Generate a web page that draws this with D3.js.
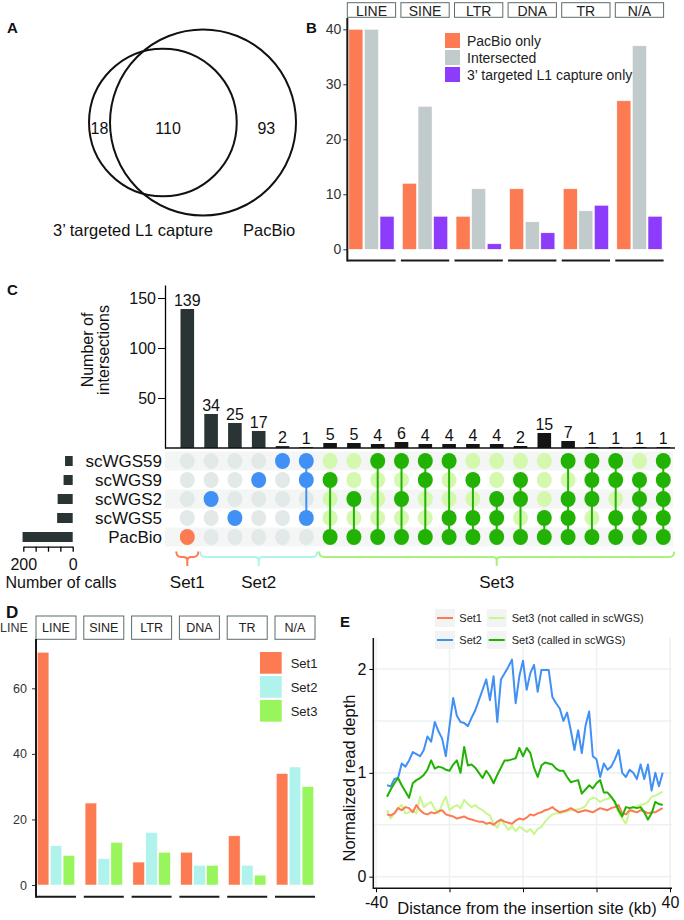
<!DOCTYPE html>
<html>
<head>
<meta charset="utf-8">
<script src="https://cdn.jsdelivr.net/npm/d3@7"></script>
<style>
  body { margin: 0; background: #fff; }
  svg { display: block; font-family: "Liberation Sans", Arial, Helvetica, sans-serif; }
</style>
</head>
<body>
<svg id="figure" width="684" height="920"></svg>
<script>
// ---- A: venn ----
const vennSetNames = ["3’ targeted L1 capture", "PacBio"];
const vennRegionCounts = [18, 110, 93]; // capture only, both, PacBio only

// ---- B: repeat class by caller ----
const repeatClasses = ["LINE", "SINE", "LTR", "DNA", "TR", "N/A"];
const callerGroups = ["PacBio only", "Intersected", "3’ targeted L1 capture only"];
const pacbioOnlyCounts = [40, 12, 6, 11, 11, 27];
const intersectedCounts = [40, 26, 11, 5, 7, 37];
const captureOnlyCounts = [6, 6, 1, 3, 8, 6];

// ---- C: upset ----
const sampleNames = ["scWGS59", "scWGS9", "scWGS2", "scWGS5", "PacBio"];
const intersectionCounts = [139, 34, 25, 17, 2, 1, 5, 5, 4, 6, 4, 4, 4, 4, 2, 15, 7, 1, 1, 1, 1];
const intersectionMembers = [
  ["PacBio"],
  ["scWGS2"],
  ["scWGS5"],
  ["scWGS9"],
  ["scWGS59"],
  ["scWGS59", "scWGS9", "scWGS5"],
  ["scWGS9", "PacBio"],
  ["scWGS2", "PacBio"],
  ["scWGS59", "PacBio"],
  ["scWGS59", "scWGS2", "PacBio"],
  ["scWGS59", "scWGS9", "PacBio"],
  ["scWGS59", "scWGS5", "PacBio"],
  ["scWGS9", "scWGS5", "PacBio"],
  ["scWGS2", "scWGS5", "PacBio"],
  ["scWGS9", "scWGS2", "PacBio"],
  ["scWGS5", "PacBio"],
  ["scWGS59", "scWGS2", "scWGS5", "PacBio"],
  ["scWGS59", "scWGS9", "scWGS2", "PacBio"],
  ["scWGS59", "scWGS9", "scWGS5", "PacBio"],
  ["scWGS9", "scWGS2", "scWGS5", "PacBio"],
  ["scWGS59", "scWGS9", "scWGS2", "scWGS5", "PacBio"],
];

// ---- D: repeat class by set ----
const setNames = ["Set1", "Set2", "Set3"];
const set1Counts = [71, 25, 7, 10, 15, 34];
const set2Counts = [12, 8, 16, 6, 6, 36];
const set3Counts = [9, 13, 10, 6, 3, 30];

// ---- E: read depth around insertion ----
const distanceKb = d3.range(-37, 39);
const set1Depth = [
  0.60, 0.59, 0.61, 0.66, 0.64, 0.67, 0.66, 0.62, 0.69, 0.64,
  0.61, 0.60, 0.62, 0.61, 0.63, 0.64, 0.60, 0.59, 0.58, 0.56,
  0.57, 0.58, 0.56, 0.55, 0.54, 0.53, 0.53, 0.51, 0.52, 0.50,
  0.53, 0.55, 0.53, 0.52, 0.51, 0.54, 0.56, 0.55, 0.57, 0.60,
  0.59, 0.61, 0.62, 0.64, 0.65, 0.67, 0.64, 0.62, 0.63, 0.64,
  0.66, 0.64, 0.62, 0.63, 0.64, 0.63, 0.62, 0.64, 0.66, 0.65,
  0.64, 0.66, 0.67, 0.69, 0.61, 0.60, 0.64, 0.63, 0.62, 0.64,
  0.63, 0.61, 0.62, 0.62, 0.64, 0.66,
];
const set2Depth = [
  0.88, 0.87, 0.94, 0.95, 1.09, 1.06, 1.12, 1.20, 1.18, 1.16,
  1.22, 1.35, 1.30, 1.49, 1.40, 1.33, 1.16, 1.45, 1.72, 1.55,
  1.49, 1.48, 1.45, 1.53, 1.60, 1.70, 1.80, 1.90, 1.70, 1.93,
  1.49, 1.90, 1.96, 2.02, 2.09, 1.67, 1.93, 2.08, 1.80, 1.96,
  2.04, 1.78, 1.99, 1.99, 1.99, 1.73, 1.67, 1.62, 1.50, 1.58,
  1.41, 1.22, 1.41, 1.19, 1.45, 1.59, 1.16, 1.13, 0.96, 1.09,
  1.03, 1.06, 1.13, 1.22, 1.00, 0.96, 1.03, 1.00, 0.94, 1.08,
  0.94, 1.08, 0.83, 1.00, 0.87, 1.00,
];
const set3NotCalledDepth = [
  0.64, 0.56, 0.61, 0.66, 0.69, 0.61, 0.62, 0.64, 0.61, 0.77,
  0.67, 0.70, 0.72, 0.65, 0.61, 0.70, 0.77, 0.64, 0.67, 0.69,
  0.66, 0.74, 0.70, 0.67, 0.69, 0.66, 0.64, 0.61, 0.59, 0.51,
  0.47, 0.55, 0.50, 0.45, 0.49, 0.44, 0.48, 0.46, 0.43, 0.46,
  0.41, 0.46, 0.48, 0.53, 0.57, 0.60, 0.61, 0.61, 0.62, 0.63,
  0.64, 0.64, 0.65, 0.66, 0.68, 0.74, 0.76, 0.75, 0.72, 0.74,
  0.75, 0.77, 0.70, 0.62, 0.56, 0.51, 0.64, 0.66, 0.68, 0.69,
  0.70, 0.72, 0.77, 0.78, 0.80, 0.82,
];
const set3CalledDepth = [
  0.77, 0.84, 0.90, 0.95, 0.88, 0.82, 0.76, 0.90, 0.93, 0.95,
  0.98, 1.03, 1.12, 1.04, 1.06, 1.05, 1.03, 1.02, 1.08, 1.12,
  1.00, 1.25, 1.07, 1.08, 1.05, 1.00, 0.95, 1.02, 0.97, 0.90,
  0.98, 1.05, 1.12, 1.12, 1.13, 1.14, 1.24, 1.16, 1.24, 1.19,
  1.05, 0.96, 1.07, 1.10, 1.09, 1.08, 1.04, 1.02, 1.02, 0.96,
  0.91, 0.92, 0.93, 0.80, 0.84, 0.88, 0.85, 0.90, 0.93, 0.81,
  0.81, 0.77, 0.72, 0.64, 0.58, 0.67, 0.66, 0.67, 0.66, 0.67,
  0.62, 0.55, 0.61, 0.72, 0.70, 0.69,
];

const colors = {
  coral: "#fd7b52",
  grey: "#c1cbcb",
  purple: "#8d3cfb",
  cyan: "#b0f2ec",
  lime: "#98f55c",
  blue: "#4090f5",
  green: "#21b203",
  paleGreen: "#c8f78e",
  dotGrey: "#e3e8e8",
  dotPale: "#d4f8ae",
  strip: "#5d6b6b",
  ink: "#1a1a1a",
};

const svg = d3.select("#figure");
svg.append("rect").attr("width", 684).attr("height", 920).attr("fill", "#fff");

function panelLabel(text, x, y, size) {
  svg
    .append("text")
    .attr("x", x)
    .attr("y", y)
    .attr("font-size", size)
    .attr("font-weight", "bold")
    .attr("fill", "#111")
    .text(text);
}

function drawVenn() {
  const g = svg.append("g");
  const [onlyA, both, onlyB] = vennRegionCounts;
  const sizes = [onlyA + both, both + onlyB];
  const r = d3.scaleSqrt().domain([0, d3.max(sizes)]).range([0, 93]);
  const [r1, r2] = sizes.map(r);
  const target = both * ((Math.PI * r2 * r2) / sizes[1]);

  // lens area for two circles at distance d
  const lens = (d) => {
    if (d <= r2 - r1) return Math.PI * r1 * r1;
    const a1 = r1 * r1 * Math.acos((d * d + r1 * r1 - r2 * r2) / (2 * d * r1));
    const a2 = r2 * r2 * Math.acos((d * d + r2 * r2 - r1 * r1) / (2 * d * r2));
    const k = Math.sqrt((-d + r1 + r2) * (d + r1 - r2) * (d - r1 + r2) * (d + r1 + r2));
    return a1 + a2 - k / 2;
  };
  let lo = r2 - r1;
  let hi = r1 + r2;
  for (let k = 0; k < 60; k++) {
    const mid = (lo + hi) / 2;
    if (lens(mid) > target) lo = mid;
    else hi = mid;
  }
  const dist = (lo + hi) / 2;
  const cy = 122.5;
  const cx2 = 203;
  const cx1 = cx2 - dist;

  g.selectAll("circle")
    .data([
      { cx: cx1, r: r1 },
      { cx: cx2, r: r2 },
    ])
    .join("circle")
    .attr("cx", (d) => d.cx)
    .attr("cy", cy)
    .attr("r", (d) => d.r)
    .attr("fill", "none")
    .attr("stroke", "#111")
    .attr("stroke-width", 2);

  const lensMid = (cx2 - r2 + cx1 + r1) / 2;
  const regionX = [(cx1 - r1 + cx2 - r2) / 2, (cx1 + lensMid) / 2, (cx1 + r1 + cx2 + r2) / 2];
  g.selectAll(".count")
    .data(vennRegionCounts)
    .join("text")
    .attr("class", "count")
    .attr("x", (d, i) => regionX[i])
    .attr("y", cy + 11)
    .attr("text-anchor", "middle")
    .attr("font-size", 16)
    .attr("fill", "#111")
    .text((d) => d);

  g.selectAll(".set-name")
    .data(vennSetNames)
    .join("text")
    .attr("class", "set-name")
    .attr("x", (d, i) => (i ? cx2 + 40 : cx1 + 50))
    .attr("y", 236)
    .attr("text-anchor", (d, i) => (i ? "start" : "end"))
    .attr("font-size", 16.5)
    .attr("fill", "#111")
    .text((d) => d);
}

function drawFacetedBars(o) {
  const g = svg.append("g");
  const y = d3.scaleLinear().domain(o.yDomain).range(o.yRange);
  const inner = d3
    .scaleBand()
    .domain(d3.range(o.series.length))
    .range([0, o.facetWidth])
    .paddingInner(0.1)
    .paddingOuter(0.1);

  const facets = g
    .selectAll(".facet")
    .data(repeatClasses)
    .join("g")
    .attr("class", "facet")
    .attr("transform", (d, i) => `translate(${o.x0 + i * o.facetStep},0)`);

  facets
    .append("rect")
    .attr("y", o.stripY)
    .attr("width", o.facetWidth)
    .attr("height", o.stripH)
    .attr("fill", "#fff")
    .attr("stroke", colors.strip)
    .attr("stroke-width", 1);
  facets
    .append("text")
    .attr("x", o.facetWidth / 2)
    .attr("y", o.stripBaseline)
    .attr("text-anchor", "middle")
    .attr("font-size", o.stripFont)
    .attr("fill", "#222")
    .text((d) => d);

  facets
    .selectAll(".bar")
    .data((d, i) => o.series.map((s, k) => ({ k, v: s[i] })))
    .join("rect")
    .attr("class", "bar")
    .attr("x", (d) => inner(d.k))
    .attr("width", inner.bandwidth())
    .attr("y", (d) => y(d.v))
    .attr("height", (d) => y(0) - y(d.v))
    .attr("fill", (d) => o.colors[d.k])
    .attr("stroke", "#fff")
    .attr("stroke-width", 0.5);

  facets
    .append("line")
    .attr("x2", o.facetWidth)
    .attr("y1", o.baseY)
    .attr("y2", o.baseY)
    .attr("stroke", colors.ink)
    .attr("stroke-width", 2);

  const axis = g
    .append("g")
    .attr("transform", `translate(${o.x0},0)`)
    .call(d3.axisLeft(y).tickValues(o.ticks).tickSize(4).tickPadding(o.tickPadding));
  axis.attr("font-family", null).attr("font-size", o.tickFont);
  axis.select(".domain").remove();
  axis.selectAll("line").attr("stroke", "#333");
  axis.selectAll("text").attr("fill", "#333");
  g.append("line")
    .attr("x1", o.x0)
    .attr("x2", o.x0)
    .attr("y1", o.axisTop)
    .attr("y2", o.baseY + 1)
    .attr("stroke", colors.ink)
    .attr("stroke-width", 2);

  const legend = g
    .selectAll(".legend")
    .data(o.legendNames)
    .join("g")
    .attr("class", "legend")
    .attr("transform", (d, i) => `translate(${o.legendX},${o.legendY + i * o.legendStep})`);
  legend
    .append("rect")
    .attr("width", o.keySize)
    .attr("height", o.keySize)
    .attr("fill", (d, i) => o.colors[i]);
  legend
    .append("text")
    .attr("x", o.keySize + o.legendGap)
    .attr("y", o.keySize / 2 + o.legendFont * 0.36)
    .attr("font-size", o.legendFont)
    .attr("fill", "#222")
    .text((d) => d);
}

function drawUpset() {
  const g = svg.append("g");
  const cols = d3.range(intersectionCounts.length);
  const groupOf = (m) => (!m.includes("PacBio") ? "Set2" : m.length === 1 ? "Set1" : "Set3");
  const groups = intersectionMembers.map(groupOf);
  const x = d3.scalePoint().domain(cols).range([187.3, 663.3]);
  const y = d3.scaleLinear().domain([0, 163]).range([448, 285]);
  const row = d3.scalePoint().domain(sampleNames).range([461, 537]);
  const barW = 13.6;

  // intersection bars
  g.selectAll(".ibar")
    .data(intersectionCounts)
    .join("rect")
    .attr("class", "ibar")
    .attr("x", (d, i) => x(i) - barW / 2)
    .attr("width", barW)
    .attr("y", (d) => y(d))
    .attr("height", (d) => y(0) - y(d))
    .attr("fill", (d, i) => (groups[i] === "Set3" ? "#151515" : "#2b3434"));
  g.selectAll(".ilabel")
    .data(intersectionCounts)
    .join("text")
    .attr("class", "ilabel")
    .attr("x", (d, i) => x(i))
    .attr("y", (d) => y(d) - 3)
    .attr("text-anchor", "middle")
    .attr("font-size", 16)
    .attr("fill", "#111")
    .text((d) => d);

  const yAxis = g
    .append("g")
    .attr("transform", "translate(165,0)")
    .call(d3.axisLeft(y).tickValues([50, 100, 150]).tickSize(7).tickSizeOuter(0).tickPadding(2));
  yAxis.attr("font-family", null).attr("font-size", 16);
  yAxis.selectAll("text").attr("fill", "#111");
  yAxis.select(".domain").attr("stroke-width", 1.3);
  g.append("line")
    .attr("x1", 165)
    .attr("x2", 675)
    .attr("y1", 448)
    .attr("y2", 448)
    .attr("stroke", "#111")
    .attr("stroke-width", 1.5);
  g.append("text")
    .attr("transform", "translate(93,350) rotate(-90)")
    .attr("text-anchor", "middle")
    .attr("font-size", 16)
    .attr("fill", "#111")
    .selectAll("tspan")
    .data(["Number of", "intersections"])
    .join("tspan")
    .attr("x", 0)
    .attr("dy", (d, i) => (i ? 16 : 0))
    .text((d) => d);

  // matrix shading
  g.selectAll(".shade")
    .data(sampleNames.filter((d, i) => i % 2 === 0))
    .join("rect")
    .attr("class", "shade")
    .attr("x", 165)
    .attr("width", 508)
    .attr("y", (d) => row(d) - 9.5)
    .attr("height", 19)
    .attr("fill", "#f4f6f6");

  const fillColor = { Set1: colors.coral, Set2: colors.blue, Set3: colors.green };
  const cells = cols.flatMap((c) =>
    sampleNames.map((s) => ({ c, s, on: intersectionMembers[c].includes(s), group: groups[c] }))
  );
  g.selectAll(".empty")
    .data(cells.filter((d) => !d.on))
    .join("ellipse")
    .attr("class", "empty")
    .attr("cx", (d) => x(d.c))
    .attr("cy", (d) => row(d.s))
    .attr("rx", 7.5)
    .attr("ry", 8)
    .attr("fill", (d) => (d.group === "Set3" ? colors.dotPale : colors.dotGrey));
  g.selectAll(".link")
    .data(cols.filter((c) => intersectionMembers[c].length > 1))
    .join("line")
    .attr("class", "link")
    .attr("x1", (c) => x(c))
    .attr("x2", (c) => x(c))
    .attr("y1", (c) => d3.min(intersectionMembers[c], row))
    .attr("y2", (c) => d3.max(intersectionMembers[c], row))
    .attr("stroke", (c) => fillColor[groups[c]])
    .attr("stroke-width", 2);
  g.selectAll(".full")
    .data(cells.filter((d) => d.on))
    .join("ellipse")
    .attr("class", "full")
    .attr("cx", (d) => x(d.c))
    .attr("cy", (d) => row(d.s))
    .attr("rx", 7.5)
    .attr("ry", 8)
    .attr("fill", (d) => fillColor[d.group]);

  // set sizes
  const setSizes = sampleNames.map((s) =>
    d3.sum(cols, (c) => (intersectionMembers[c].includes(s) ? intersectionCounts[c] : 0))
  );
  const xs = d3.scaleLinear().domain([0, 200]).range([72.7, 23.3]);
  g.selectAll(".sbar")
    .data(setSizes)
    .join("rect")
    .attr("class", "sbar")
    .attr("x", (d) => xs(d))
    .attr("width", (d) => xs(0) - xs(d))
    .attr("y", (d, i) => row(sampleNames[i]) - 5)
    .attr("height", 10)
    .attr("fill", "#2b3434");
  g.selectAll(".sname")
    .data(sampleNames)
    .join("text")
    .attr("class", "sname")
    .attr("x", 162)
    .attr("y", (d) => row(d) + 6)
    .attr("text-anchor", "end")
    .attr("font-size", 17)
    .attr("fill", "#111")
    .text((d) => d);
  const sAxis = g
    .append("g")
    .attr("transform", "translate(0,546.7)")
    .call(
      d3
        .axisBottom(xs)
        .tickValues([0, 50, 100, 150, 200])
        .tickSize(5)
        .tickSizeOuter(0)
        .tickPadding(7)
        .tickFormat((d) => (d === 0 || d === 200 ? d : ""))
    );
  sAxis.attr("font-family", null).attr("font-size", 16);
  sAxis.selectAll("text").attr("fill", "#111");
  sAxis.selectAll("path,line").attr("stroke-width", 1.3);
  g.append("text")
    .attr("x", 61)
    .attr("y", 587.5)
    .attr("text-anchor", "middle")
    .attr("font-size", 16)
    .attr("fill", "#111")
    .text("Number of calls");

  // set brackets
  const bracketColor = { Set1: colors.coral, Set2: colors.cyan, Set3: "#a9f07c" };
  const spans = ["Set1", "Set2", "Set3"].map((name) => {
    const idx = cols.filter((c) => groups[c] === name);
    return { name, x0: x(d3.min(idx)) - 11, x1: x(d3.max(idx)) + 11 };
  });
  const yTop = 551.5;
  const yLine = 557;
  const bracket = (s) => {
    const xm = (s.x0 + s.x1) / 2;
    return `M${s.x0},${yTop}Q${s.x0},${yLine} ${s.x0 + 5},${yLine}H${xm - 4}Q${xm},${yLine} ${xm},${yLine + 4}V566` +
      `M${xm},${yLine + 4}Q${xm},${yLine} ${xm + 4},${yLine}H${s.x1 - 5}Q${s.x1},${yLine} ${s.x1},${yTop}`;
  };
  g.selectAll(".bracket")
    .data(spans)
    .join("path")
    .attr("class", "bracket")
    .attr("d", bracket)
    .attr("fill", "none")
    .attr("stroke", (d) => bracketColor[d.name])
    .attr("stroke-width", 2);
  g.selectAll(".bracket-label")
    .data(spans)
    .join("text")
    .attr("class", "bracket-label")
    .attr("x", (d) => (d.x0 + d.x1) / 2)
    .attr("y", 588)
    .attr("text-anchor", "middle")
    .attr("font-size", 17)
    .attr("fill", "#111")
    .text((d) => d.name);
}

function drawDepth() {
  const g = svg.append("g");
  const x = d3.scaleLinear().domain([-40, 40]).range([376, 670]);
  const y = d3.scaleLinear().domain([0, 2]).range([876.7, 669]);
  const left = 373.3;
  const right = 672;
  const top = 638;
  const bottom = 888.3;

  g.selectAll(".hgrid")
    .data([0, 0.5, 1, 1.5, 2])
    .join("line")
    .attr("class", "hgrid")
    .attr("x1", left)
    .attr("x2", right)
    .attr("y1", (d) => y(d))
    .attr("y2", (d) => y(d))
    .attr("stroke", "#edf2f2")
    .attr("stroke-width", 1.6);
  g.selectAll(".vgrid")
    .data([-40, -20, 0, 20, 40])
    .join("line")
    .attr("class", "vgrid")
    .attr("x1", (d) => x(d))
    .attr("x2", (d) => x(d))
    .attr("y1", top)
    .attr("y2", bottom)
    .attr("stroke", "#edf2f2")
    .attr("stroke-width", 1.6);

  const series = [
    { name: "Set3 (not called in scWGS)", color: colors.paleGreen, values: set3NotCalledDepth },
    { name: "Set1", color: colors.coral, values: set1Depth },
    { name: "Set2", color: colors.blue, values: set2Depth },
    { name: "Set3 (called in scWGS)", color: colors.green, values: set3CalledDepth },
  ];
  const line = d3
    .line()
    .x((d, i) => x(distanceKb[i]))
    .y((d) => y(d));
  g.selectAll(".depth")
    .data(series)
    .join("path")
    .attr("class", "depth")
    .attr("d", (d) => line(d.values))
    .attr("fill", "none")
    .attr("stroke", (d) => d.color)
    .attr("stroke-width", 2)
    .attr("stroke-linejoin", "round");

  const yAxis = g
    .append("g")
    .attr("transform", `translate(${left},0)`)
    .call(d3.axisLeft(y).tickValues([0, 1, 2]).tickFormat(d3.format("d")).tickSize(4).tickPadding(3));
  yAxis.attr("font-family", null).attr("font-size", 16);
  yAxis.select(".domain").remove();
  yAxis.selectAll("text").attr("fill", "#111");
  const xAxis = g
    .append("g")
    .attr("transform", `translate(0,${bottom})`)
    .call(
      d3
        .axisBottom(x)
        .tickValues([-40, -20, 0, 20, 40])
        .tickSize(4)
        .tickPadding(4)
        .tickFormat((d) => (Math.abs(d) === 40 ? d : ""))
    );
  xAxis.attr("font-family", null).attr("font-size", 16);
  xAxis.select(".domain").remove();
  xAxis.selectAll("text").attr("fill", "#111");
  g.append("path")
    .attr("d", `M${left},${top}V${bottom}H${right}`)
    .attr("fill", "none")
    .attr("stroke", "#111")
    .attr("stroke-width", 1.5);

  g.append("text")
    .attr("x", 527)
    .attr("y", 914)
    .attr("text-anchor", "middle")
    .attr("font-size", 16.5)
    .attr("fill", "#111")
    .text("Distance from the insertion site (kb)");
  g.append("text")
    .attr("transform", "translate(355,778) rotate(-90)")
    .attr("text-anchor", "middle")
    .attr("font-size", 16.5)
    .attr("fill", "#111")
    .text("Normalized read depth");

  // legend, two rows by two columns
  const legendOrder = ["Set1", "Set3 (not called in scWGS)", "Set2", "Set3 (called in scWGS)"];
  const keyX = [435, 486.7];
  const textX = [459.3, 511.7];
  const rowY = [618, 640];
  const items = g
    .selectAll(".legend")
    .data(legendOrder.map((name, i) => ({ ...series.find((s) => s.name === name), i })))
    .join("g")
    .attr("class", "legend")
    .attr("transform", (d) => `translate(0,${rowY[Math.floor(d.i / 2)]})`);
  items
    .append("rect")
    .attr("x", (d) => keyX[d.i % 2])
    .attr("y", -9)
    .attr("width", 20)
    .attr("height", 18)
    .attr("fill", "#f2f4f4");
  items
    .append("line")
    .attr("x1", (d) => keyX[d.i % 2] + 2)
    .attr("x2", (d) => keyX[d.i % 2] + 18)
    .attr("stroke", (d) => d.color)
    .attr("stroke-width", 2);
  items
    .append("text")
    .attr("x", (d) => textX[d.i % 2])
    .attr("y", 4)
    .attr("font-size", 11)
    .attr("fill", "#222")
    .text((d) => d.name);
}

drawVenn();
drawFacetedBars({
  series: [pacbioOnlyCounts, intersectedCounts, captureOnlyCounts],
  colors: [colors.coral, colors.grey, colors.purple],
  legendNames: callerGroups,
  x0: 347.3,
  facetStep: 53.6,
  facetWidth: 48.3,
  stripY: 2.7,
  stripH: 14.6,
  stripBaseline: 15.5,
  stripFont: 14,
  yDomain: [0, 40],
  yRange: [249.3, 29.3],
  ticks: [0, 10, 20, 30, 40],
  tickPadding: 2,
  tickFont: 14,
  baseY: 260.5,
  axisTop: 18,
  legendX: 445,
  legendY: 33,
  legendStep: 17,
  keySize: 15,
  legendGap: 7,
  legendFont: 14,
});
drawUpset();
drawFacetedBars({
  series: [set1Counts, set2Counts, set3Counts],
  colors: [colors.coral, colors.cyan, colors.lime],
  legendNames: setNames,
  x0: 36,
  facetStep: 47.8,
  facetWidth: 40,
  stripY: 616,
  stripH: 23.3,
  stripBaseline: 632,
  stripFont: 12.5,
  yDomain: [0, 60],
  yRange: [885, 688.3],
  ticks: [0, 20, 40, 60],
  tickPadding: 5,
  tickFont: 12.5,
  baseY: 896.7,
  axisTop: 639,
  legendX: 260,
  legendY: 652,
  legendStep: 24,
  keySize: 21.7,
  legendGap: 9,
  legendFont: 13,
});
drawDepth();

svg.append("text")
  .attr("x", 0)
  .attr("y", 632)
  .attr("font-size", 12.5)
  .attr("fill", "#333")
  .text("LINE");

panelLabel("A", 7, 33, 15);
panelLabel("B", 306, 33, 15);
panelLabel("C", 7, 295, 15);
panelLabel("D", 6, 618, 17);
panelLabel("E", 340, 627, 15);
</script>
</body>
</html>
